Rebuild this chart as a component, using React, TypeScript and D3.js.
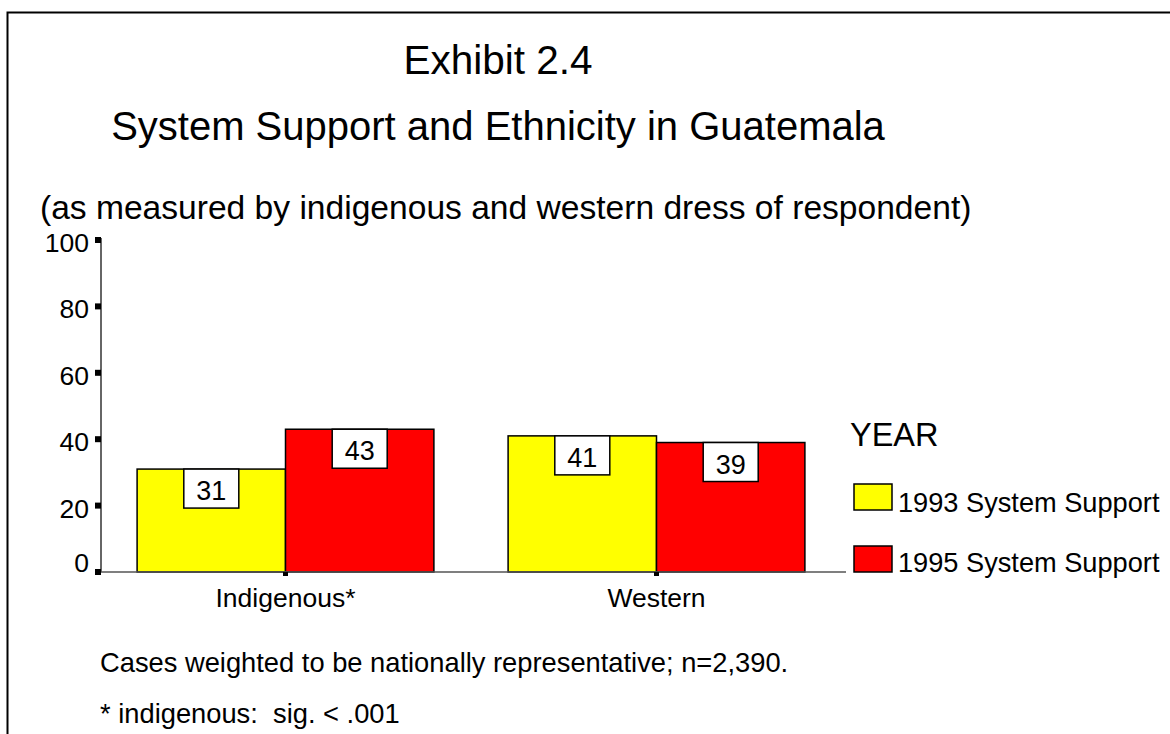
import React from "react";
import * as d3 from "d3";

const categories = ["Indigenous*", "Western"];
const seriesNames = ["1993 System Support", "1995 System Support"];
const values1993 = [31, 41];
const values1995 = [43, 39];
const seriesColors = ["#FFFF00", "#FF0000"];
const yTicks = [0, 20, 40, 60, 80, 100];
const titleLines = ["Exhibit 2.4", "System Support and Ethnicity in Guatemala"];
const subtitle = "(as measured by indigenous and western dress of respondent)";
const footnotes = [
  "Cases weighted to be nationally representative; n=2,390.",
  "* indigenous:  sig. < .001",
];
const legendTitle = "YEAR";

const FONT = "'Liberation Sans', Arial, Helvetica, sans-serif";

export default function App() {
  const W = 1170;
  const H = 734;
  const axisLeft = 101;
  const axisRight = 846;
  const y = d3.scaleLinear().domain([0, 100]).range([572, 240]);
  const x0 = d3
    .scaleBand<string>()
    .domain(categories)
    .range([100, 842])
    .paddingInner(0.2)
    .paddingOuter(0.1);
  const x1 = d3
    .scaleBand<string>()
    .domain(seriesNames)
    .range([0, x0.bandwidth()]);
  const seriesValues = [values1993, values1995];

  const boxW = 55;
  const boxH = 39;

  return (
    <svg
      width={W}
      height={H}
      style={{ position: "absolute", left: 0, top: 0, background: "#fff" }}
      fontFamily={FONT}
    >
      <rect x={0} y={0} width={W} height={H} fill="#fff" />
      {/* outer frame */}
      <path d={`M7.5,${H} V12.5 H${W}`} fill="none" stroke="#000" strokeWidth={2} />

      {/* titles */}
      <text x={498} y={74} fontSize={40.5} textAnchor="middle">{titleLines[0]}</text>
      <text x={498} y={140} fontSize={40} textAnchor="middle">{titleLines[1]}</text>
      <text x={40} y={219} fontSize={33.6}>{subtitle}</text>

      {/* bars */}
      {categories.map((c, ci) =>
        seriesNames.map((s, si) => {
          const v = seriesValues[si][ci];
          const bx = (x0(c) as number) + (x1(s) as number);
          const bw = x1.bandwidth();
          return (
            <rect
              key={c + s}
              x={bx}
              y={y(v)}
              width={bw}
              height={y(0) - y(v)}
              fill={seriesColors[si]}
              stroke="#000"
              strokeWidth={1.5}
            />
          );
        })
      )}

      {/* value labels */}
      {categories.map((c, ci) =>
        seriesNames.map((s, si) => {
          const v = seriesValues[si][ci];
          const cx = (x0(c) as number) + (x1(s) as number) + x1.bandwidth() / 2;
          return (
            <g key={"l" + c + s}>
              <rect
                x={cx - boxW / 2}
                y={y(v)}
                width={boxW}
                height={boxH}
                fill="#fff"
                stroke="#000"
                strokeWidth={1.5}
              />
              <text x={cx} y={y(v) + 31} fontSize={27} textAnchor="middle">
                {v}
              </text>
            </g>
          );
        })
      )}

      {/* y axis */}
      <line x1={axisLeft} x2={axisLeft} y1={y(100) - 2} y2={y(0)} stroke="#333" strokeWidth={1.5} />
      {yTicks.map((t) => (
        <g key={"t" + t}>
          <rect x={95} y={y(t) - 3} width={6} height={6} fill="#000" />
          <text
            x={89}
            y={Math.min(y(t) + 12, y(0))}
            fontSize={26.5}
            textAnchor="end"
          >
            {t}
          </text>
        </g>
      ))}

      {/* x axis */}
      <line x1={axisLeft} x2={axisRight} y1={y(0)} y2={y(0)} stroke="#555" strokeWidth={1.5} />
      {categories.map((c) => {
        const cx = (x0(c) as number) + x0.bandwidth() / 2;
        return (
          <g key={"c" + c}>
            <rect x={cx - 2.5} y={y(0)} width={5} height={4} fill="#000" />
            <text x={cx} y={607} fontSize={26.5} textAnchor="middle">
              {c}
            </text>
          </g>
        );
      })}

      {/* legend */}
      <text x={850} y={446} fontSize={32.5}>{legendTitle}</text>
      {seriesNames.map((s, si) => (
        <g key={"lg" + s}>
          <rect
            x={854}
            y={484 + si * 62}
            width={38}
            height={26}
            fill={seriesColors[si]}
            stroke="#000"
            strokeWidth={1.5}
          />
          <text x={898} y={512 + si * 60} fontSize={27.2}>
            {s}
          </text>
        </g>
      ))}

      {/* footnotes */}
      {footnotes.map((f, i) => (
        <text key={"f" + i} x={100} y={672 + i * 51} fontSize={27.3} style={{ whiteSpace: "pre" }}>
          {f}
        </text>
      ))}
    </svg>
  );
}
